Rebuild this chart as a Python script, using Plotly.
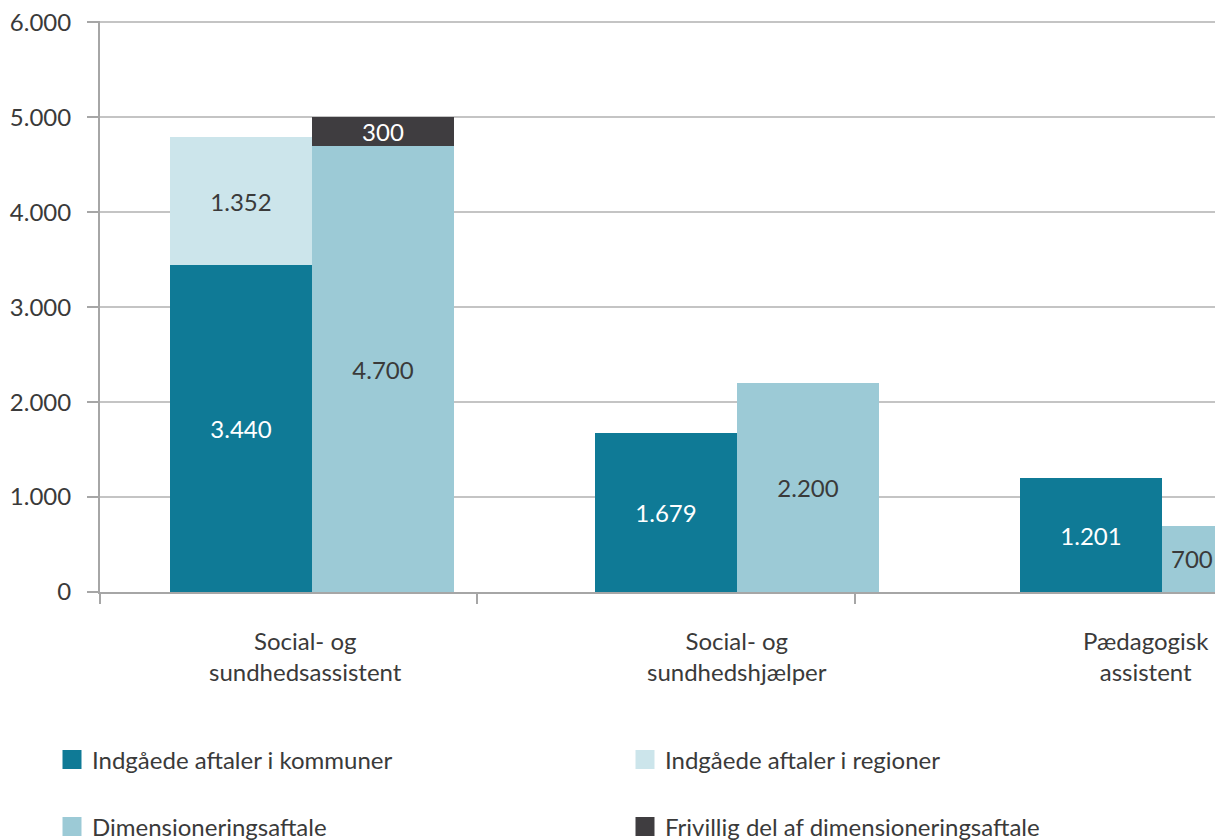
import plotly.graph_objects as go

categories = ["Social- og<br>sundhedsassistent", "Social- og<br>sundhedshjælper", "Pædagogisk<br>assistent"]
kommuner = [3440, 1679, 1201]
regioner = [1352, None, None]
dimensionering = [4700, 2200, 700]
frivillig = [300, None, None]
ytick_vals = [0, 1000, 2000, 3000, 4000, 5000, 6000]

names = ["Indgåede aftaler i kommuner", "Indgåede aftaler i regioner",
         "Dimensioneringsaftale", "Frivillig del af dimensioneringsaftale"]
colors = ["#0f7a96", "#cce5eb", "#9ccad6", "#3f3d40"]
txtcol = ["#ffffff", "#3a3a3a", "#3a3a3a", "#ffffff"]

FONT = "Lato"
FS = 24
TXT = "#3a3a3a"
W, H = 1215, 832
idx = list(range(len(categories)))
left = [i - 1/6 for i in idx]
right = [i + 1/6 for i in idx]

fig = go.Figure()
series = [(kommuner, left), (regioner, left), (dimensionering, right), (frivillig, right)]
for k, (vals, xs) in enumerate(series):
    texts = []
    for j, v in enumerate(vals):
        if v is None or (xs is right and j == len(vals) - 1):
            texts.append("")
        else:
            texts.append(f"{v:,}".replace(",", "."))
    fig.add_trace(go.Bar(
        x=xs, y=vals, width=1/3, name=names[k], marker=dict(color=colors[k], line=dict(width=0)),
        text=texts, textposition="inside", insidetextanchor="middle", textangle=0,
        constraintext="none", insidetextfont=dict(family=FONT, size=FS, color=txtcol[k]),
        showlegend=False, hoverinfo="skip", cliponaxis=True,
    ))

# legend proxies, one legend box per entry (2 x 2 grid)
legend_ids = ["legend", "legend2", "legend3", "legend4"]
for k in range(4):
    fig.add_trace(go.Scatter(
        x=[None], y=[None], mode="markers", name=names[k],
        marker=dict(symbol="square", size=16, color=colors[k], line=dict(width=3, color=colors[k])),
        legend=legend_ids[k], showlegend=True,
    ))

# dummy trace for tick axis
fig.add_trace(go.Scatter(x=[None], y=[None], xaxis="x2", showlegend=False, hoverinfo="skip"))

# label for clipped last bar
fig.add_annotation(x=idx[-1], y=dimensionering[-1] / 2, xref="x", yref="y",
                   text=f"{dimensionering[-1]:,}".replace(",", "."), showarrow=False,
                   xshift=30, font=dict(family=FONT, size=FS, color=TXT))

# category labels
shifts = [-6, 0, -16]
for i, c in enumerate(categories):
    fig.add_annotation(x=i, y=0, xref="x", yref="paper", yanchor="top", yshift=-32, xshift=shifts[i],
                       text=c, showarrow=False, align="center",
                       font=dict(family=FONT, size=FS, color=TXT))

leg_x = [44, 617, 44, 617]
leg_y = [752, 752, 819, 819]
legends = {}
for k, lid in enumerate(legend_ids):
    legends[lid] = dict(orientation="h", xref="container", yref="container",
                        x=leg_x[k] / W, y=1 - leg_y[k] / H, xanchor="left", yanchor="middle",
                        font=dict(family=FONT, size=FS, color=TXT), bgcolor="rgba(0,0,0,0)")

fig.update_layout(
    width=W, height=H,
    margin=dict(l=92, r=0, t=13, b=248),
    paper_bgcolor="white", plot_bgcolor="white",
    barmode="stack", bargap=0,
    separators=",.",
    font=dict(family=FONT, size=FS, color=TXT),
    xaxis=dict(range=[-0.4988, 2.1435], showgrid=False, zeroline=False,
               showline=True, linecolor="#a6a6a6", linewidth=2,
               tickvals=[], ticks="", showticklabels=False),
    xaxis2=dict(overlaying="x", anchor="y", side="bottom", range=[0, 2.975],
                tickvals=[0, 1, 2], ticks="outside", ticklen=11, tickwidth=2, tickcolor="#a6a6a6",
                showticklabels=False, showgrid=False, zeroline=False, showline=False),
    yaxis=dict(range=[0, 6015], tickvals=ytick_vals, tickformat=",d",
               showgrid=True, gridcolor="#c4c4c4",
               gridwidth=1.5, zeroline=False, showline=True, linecolor="#a6a6a6", linewidth=2,
               ticks="outside", ticklen=11, tickwidth=2, tickcolor="#a6a6a6",
               ticklabeloverflow="allow",
               tickfont=dict(family=FONT, size=FS, color=TXT), ticklabelstandoff=11),
    **legends,
)

fig.write_html("out.html")
